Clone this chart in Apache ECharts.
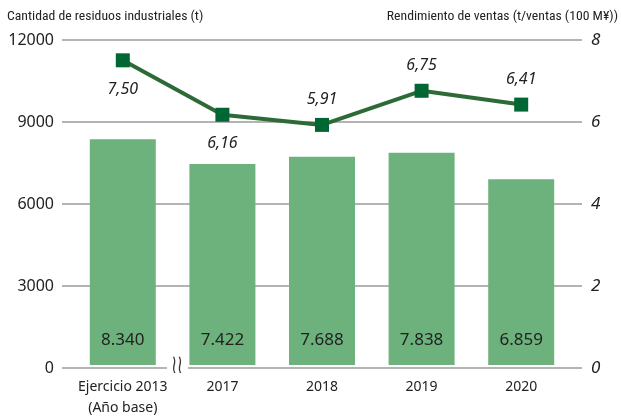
<!DOCTYPE html>
<html><head><meta charset="utf-8">
<script src="https://cdn.jsdelivr.net/npm/echarts@6/dist/echarts.min.js"></script>
<style>html,body{margin:0;padding:0;background:#fff}#c{width:621px;height:419px}</style>
</head><body><div id="c"></div>
<script>
const categories = ['Ejercicio 2013\n(Año base)', '2017', '2018', '2019', '2020'];
const wasteValues = [8340, 7422, 7688, 7838, 6859];
const ratioValues = [7.50, 6.16, 5.91, 6.75, 6.41];
const leftTicks = [0, 3000, 6000, 9000, 12000];
const rightTicks = [0, 2, 4, 6, 8];
const labelPos = ['bottom', 'bottom', 'top', 'top', 'top'];

const TFONT = "'Liberation Sans Narrow','Roboto Condensed','Noto Sans',sans-serif";
const FONT = "'Noto Sans',sans-serif";
const chart = echarts.init(document.getElementById('c'));
const fmtThousands = v => String(v).replace(/\B(?=(\d{3})+(?!\d))/g, '.');

chart.setOption({
  animation: false,
  textStyle: { fontFamily: FONT },
  grid: [
    { left: 62, right: 39, top: 40, bottom: 51 },
    { left: 73, right: 50, top: 40, bottom: 51 }
  ],
  xAxis: [
    { gridIndex: 0, type: 'category', data: categories, show: false },
    { gridIndex: 1, type: 'category', data: categories,
      axisLine: { show: false }, axisTick: { show: false },
      axisLabel: { interval: 0, color: '#222', fontSize: 14, fontFamily: FONT, margin: 12, lineHeight: 21 } }
  ],
  yAxis: [
    { gridIndex: 0, type: 'value', min: 0, max: 12000, interval: 3000,
      axisLine: { show: false }, axisTick: { show: false },
      splitLine: { lineStyle: { color: '#b4b4b4', width: 2 } },
      axisLabel: { color: '#222', fontSize: 16, fontFamily: FONT, margin: 8, formatter: v => String(v) } },
    { gridIndex: 0, type: 'value', min: 0, max: 8, interval: 2, position: 'right',
      axisLine: { show: false }, axisTick: { show: false }, splitLine: { show: false },
      axisLabel: { color: '#222', fontSize: 17, fontStyle: 'italic', fontFamily: FONT, margin: 9 } },
    { gridIndex: 1, type: 'value', min: 0, max: 12000, interval: 3000, show: false },
    { gridIndex: 1, type: 'value', min: 0, max: 8, interval: 2, show: false }
  ],
  series: [
    { type: 'bar', xAxisIndex: 1, yAxisIndex: 2, data: wasteValues, barWidth: 66,
      itemStyle: { color: '#6db27c' },
      label: { show: true, position: 'insideBottom', distance: 16, color: '#222', fontSize: 17,
               fontFamily: FONT, formatter: p => fmtThousands(p.value) } },
    { type: 'line', xAxisIndex: 1, yAxisIndex: 3,
      data: ratioValues.map((v, i) => ({ value: v, label: { position: labelPos[i], distance: labelPos[i] === 'bottom' ? 14 : 10 } })),
      symbol: 'rect', symbolSize: 14,
      lineStyle: { color: '#2d6a36', width: 4 },
      itemStyle: { color: '#006633' },
      label: { show: true, color: '#222', fontSize: 16, fontStyle: 'italic',
               fontFamily: FONT, formatter: p => p.value.toFixed(2).replace('.', ',') } }
  ],
  graphic: [
    { type: 'text', left: 7, top: 10, style: { text: 'Cantidad de residuos industriales (t)', fill: '#222', font: "13.7px " + TFONT } },
    { type: 'text', right: 3, top: 10, style: { text: 'Rendimiento de ventas (t/ventas (100 M¥))', fill: '#222', font: "13.7px " + TFONT } },
    { type: 'rect', shape: { x: 167, y: 360, width: 21, height: 14 }, style: { fill: '#fff' }, z: 100 },
    { type: 'text', x: 177, y: 366, scaleX: 0.6, style: { text: '≀≀', fill: '#333', font: "26px 'DejaVu Sans'", textAlign: 'center', textVerticalAlign: 'middle' }, z: 101 }
  ]
});
</script></body></html>
